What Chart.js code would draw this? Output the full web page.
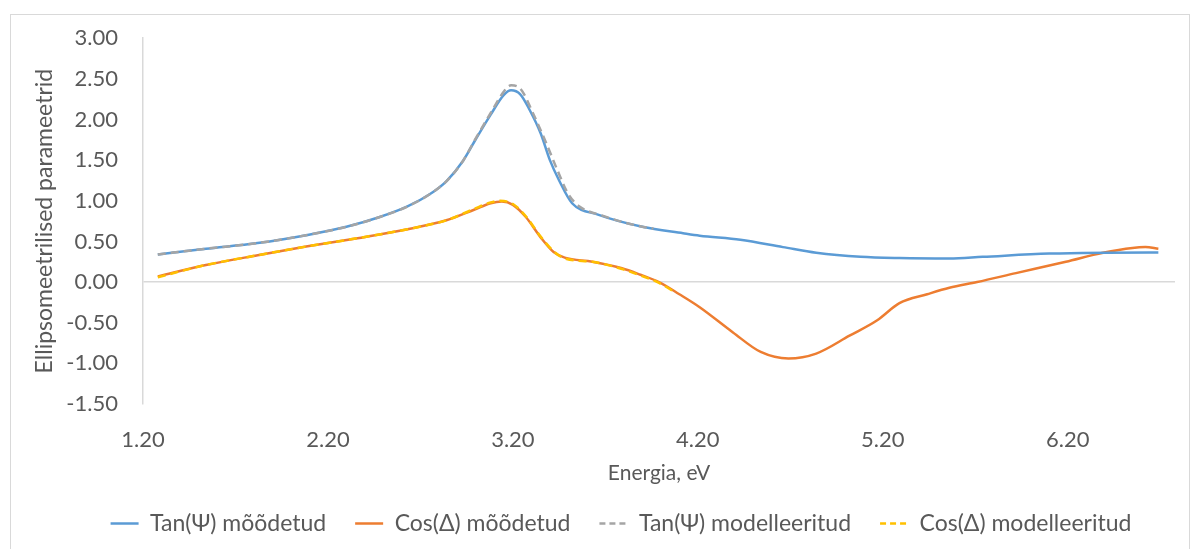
<!DOCTYPE html>
<html>
<head>
<meta charset="utf-8">
<script src="https://cdn.jsdelivr.net/npm/chart.js@4.4.1/dist/chart.umd.min.js"></script>
<style>
    html, body { margin: 0; padding: 0; background: #fff; overflow: hidden; }
    #wrap { position: relative; width: 1200px; height: 549px; }
    #frame { position: absolute; left: 10px; top: 14px; width: 1180px; height: 560px;
             border: 1px solid #d9d9d9; box-sizing: border-box; pointer-events: none; }
</style>
</head>
<body>
<div id="wrap">
    <canvas id="chart" width="1200" height="549"></canvas>
    <div id="frame"></div>
</div>
<script>
// energy (eV) and values for each series
var tanPsiMeasE = [1.28, 1.54, 1.82, 2.09, 2.30, 2.48, 2.63, 2.75, 2.84, 2.93, 3.00, 3.08, 3.15, 3.19, 3.24, 3.29, 3.35, 3.40, 3.45, 3.52, 3.66, 3.90, 4.12, 4.21, 4.43, 4.66, 4.84, 5.08, 5.29, 5.56, 5.74, 6.10, 6.64, 6.69];
var tanPsiMeas  = [0.34, 0.41, 0.48, 0.58, 0.68, 0.80, 0.93, 1.08, 1.24, 1.49, 1.76, 2.06, 2.30, 2.36, 2.31, 2.12, 1.83, 1.50, 1.25, 0.97, 0.83, 0.68, 0.60, 0.57, 0.52, 0.43, 0.36, 0.31, 0.295, 0.29, 0.31, 0.35, 0.365, 0.365];

var cosDeltaMeasE = [1.28, 1.54, 1.82, 2.09, 2.36, 2.63, 2.84, 2.99, 3.08, 3.14, 3.20, 3.27, 3.35, 3.42, 3.48, 3.63, 3.79, 3.89, 3.99, 4.10, 4.21, 4.39, 4.54, 4.69, 4.84, 5.02, 5.17, 5.29, 5.44, 5.56, 5.71, 5.92, 6.19, 6.39, 6.55, 6.62, 6.69];
var cosDeltaMeas  = [0.07, 0.21, 0.33, 0.44, 0.54, 0.65, 0.76, 0.89, 0.97, 0.99, 0.95, 0.80, 0.55, 0.37, 0.30, 0.25, 0.17, 0.09, 0.00, -0.15, -0.31, -0.62, -0.86, -0.94, -0.88, -0.66, -0.47, -0.26, -0.15, -0.07, 0.00, 0.11, 0.25, 0.36, 0.42, 0.43, 0.41];

var tanPsiModelE = [1.28, 1.54, 1.82, 2.09, 2.30, 2.48, 2.63, 2.75, 2.84, 2.93, 3.00, 3.08, 3.15, 3.19, 3.24, 3.31, 3.38, 3.44, 3.50, 3.56, 3.68, 3.90, 3.96];
var tanPsiModel  = [0.34, 0.41, 0.48, 0.58, 0.68, 0.80, 0.93, 1.08, 1.24, 1.49, 1.77, 2.08, 2.34, 2.42, 2.38, 2.07, 1.71, 1.38, 1.08, 0.93, 0.82, 0.68, 0.66];

var cosDeltaModelE = [1.28, 1.54, 1.82, 2.09, 2.36, 2.63, 2.84, 2.99, 3.08, 3.13, 3.20, 3.27, 3.35, 3.42, 3.48, 3.63, 3.79, 3.89, 3.99, 4.08];
var cosDeltaModel  = [0.06, 0.21, 0.33, 0.44, 0.54, 0.65, 0.76, 0.90, 0.98, 1.00, 0.96, 0.81, 0.56, 0.38, 0.29, 0.25, 0.16, 0.08, -0.01, -0.13];

var xTicks = [1.2, 2.2, 3.2, 4.2, 5.2, 6.2];
var seriesNames = ['Tan(\u03A8) mõõdetud', 'Cos(\u0394) mõõdetud', 'Tan(\u03A8) modelleeritud', 'Cos(\u0394) modelleeritud'];

var fontFamily = 'Lato, "Noto Sans", sans-serif';
var textColor = '#595959';
var axisColor = '#d9d9d9';

function points(xs, ys) {
    var out = [];
    for (var i = 0; i < xs.length; i++) {
        out.push({ x: xs[i], y: ys[i] });
    }
    return out;
}

function lineSet(label, data, color, dashed, order) {
    return {
        label: label,
        data: data,
        borderColor: color,
        backgroundColor: color,
        borderWidth: 2.5,
        borderDash: dashed ? [8, 5] : [],
        pointRadius: 0,
        cubicInterpolationMode: 'monotone',
        fill: false,
        order: order
    };
}

// legend samples as short lines, dashed for the model series
function legendLabels(chart) {
    var items = Chart.defaults.plugins.legend.labels.generateLabels(chart);
    items.forEach(function (item) {
        var ds = chart.data.datasets[item.datasetIndex];
        item.strokeStyle = ds.borderColor;
        item.lineWidth = 2.5;
        item.lineDash = ds.borderDash.length ? [6, 4] : [];
    });
    return items;
}

var ctx = document.getElementById('chart');
var chart = new Chart(ctx, {
    type: 'line',
    data: {
        datasets: [
            lineSet(seriesNames[0], points(tanPsiMeasE, tanPsiMeas), '#5B9BD5', false, 1),
            lineSet(seriesNames[1], points(cosDeltaMeasE, cosDeltaMeas), '#ED7D31', false, 1),
            lineSet(seriesNames[2], points(tanPsiModelE, tanPsiModel), '#A5A5A5', true, 0),
            lineSet(seriesNames[3], points(cosDeltaModelE, cosDeltaModel), '#FFC000', true, 0)
        ]
    },
    options: {
        responsive: false,
        animation: false,
        layout: { padding: { left: 42, right: 0, top: 37, bottom: 4 } },
        plugins: {
            tooltip: { enabled: false },
            legend: {
                position: 'bottom',
                labels: {
                    usePointStyle: true,
                    pointStyle: 'line',
                    pointStyleWidth: 28,
                    padding: 29,
                    color: textColor,
                    font: { family: fontFamily, size: 23 },
                    generateLabels: legendLabels,
                    sort: function (a, b) { return a.datasetIndex - b.datasetIndex; }
                }
            }
        },
        scales: {
            x: {
                type: 'linear',
                min: 1.2,
                max: 6.78,
                afterBuildTicks: function (scale) {
                    scale.ticks = xTicks.map(function (v) { return { value: v }; });
                },
                afterFit: function (scale) { scale.height = 79; },
                grid: { display: false, drawTicks: false },
                border: { display: false },
                ticks: {
                    padding: 23,
                    maxRotation: 0,
                    autoSkip: false,
                    color: textColor,
                    font: { family: fontFamily, size: 22 },
                    callback: function (v) { return Number(v).toFixed(2); }
                },
                title: {
                    display: true,
                    text: 'Energia, eV',
                    color: textColor,
                    padding: { top: 0, bottom: -3 },
                    font: { family: fontFamily, size: 21 }
                }
            },
            y: {
                min: -1.5,
                max: 3,
                afterFit: function (scale) { scale.width = 101; },
                grid: {
                    drawTicks: false,
                    lineWidth: 1.5,
                    color: function (c) { return c.tick && c.tick.value === 0 ? axisColor : 'rgba(0,0,0,0)'; }
                },
                border: { display: true, color: axisColor, width: 1.5 },
                ticks: {
                    stepSize: 0.5,
                    padding: 25,
                    color: textColor,
                    font: { family: fontFamily, size: 22 },
                    callback: function (v) { return Number(v).toFixed(2); }
                },
                title: {
                    display: true,
                    text: 'Ellipsomeetrilised parameetrid',
                    color: textColor,
                    padding: { top: -11, bottom: 0 },
                    font: { family: fontFamily, size: 23 }
                }
            },
            yRight: {
                position: 'right',
                display: true,
                afterFit: function (scale) { scale.width = 25; },
                grid: { display: false, drawTicks: false },
                border: { display: false },
                ticks: { display: false }
            }
        }
    }
});
</script>
</body>
</html>
